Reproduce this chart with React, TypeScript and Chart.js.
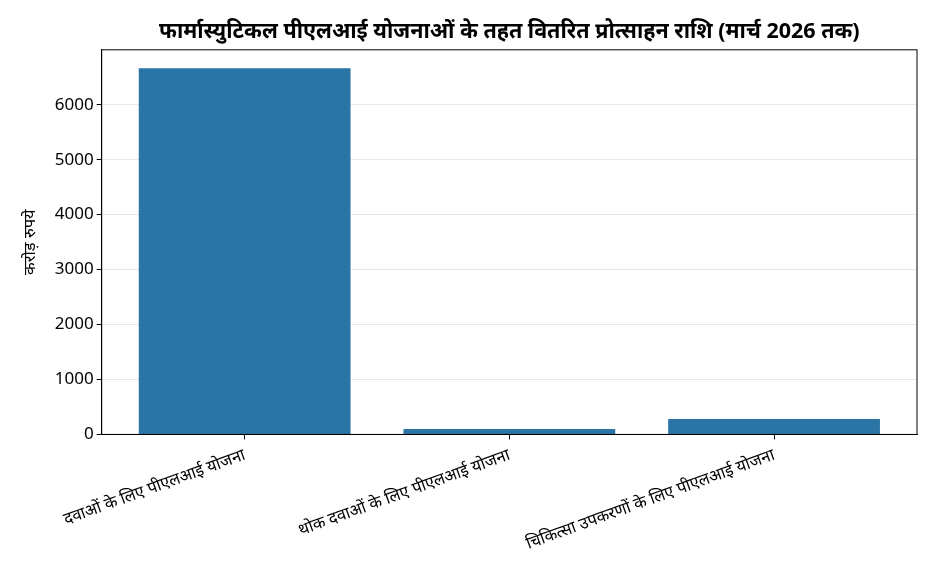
import { Chart, registerables } from 'chart.js';
import type { Plugin } from 'chart.js';
import { useEffect, useRef } from 'react';

Chart.register(...registerables);

const SCHEMES: string[] = [
    'दवाओं के लिए पीएलआई योजना',
    'थोक दवाओं के लिए पीएलआई योजना',
    'चिकित्सा उपकरणों के लिए पीएलआई योजना',
];

// crore rupees
const DISBURSED: number[] = [6664, 97, 280];

const Y_TICKS: number[] = [0, 1000, 2000, 3000, 4000, 5000, 6000];

const TITLE = 'फार्मास्युटिकल पीएलआई योजनाओं के तहत वितरित प्रोत्साहन राशि (मार्च 2026 तक)';
const Y_LABEL = 'करोड़ रुपये';

const FONT = "'Noto Sans', 'DejaVu Sans', sans-serif";

// full box round the plot, like matplotlib spines
const frame: Plugin<'bar'> = {
    id: 'frame',
    afterDraw(chart) {
        const { ctx, chartArea: a } = chart;
        ctx.save();
        ctx.strokeStyle = '#000';
        ctx.lineWidth = 1;
        ctx.strokeRect(a.left, a.top, a.right - a.left, a.bottom - a.top);
        ctx.restore();
    },
};

export default function App() {
    const canvasRef = useRef<HTMLCanvasElement>(null);
    const chartRef = useRef<Chart<'bar'> | null>(null);

    useEffect(() => {
        document.body.style.margin = '0';
        if (!canvasRef.current) return;
        chartRef.current?.destroy();

        chartRef.current = new Chart(canvasRef.current, {
            type: 'bar',
            data: {
                datasets: [
                    {
                        label: Y_LABEL,
                        data: DISBURSED.map((v, i) => ({ x: i, y: v })),
                        backgroundColor: '#2a75a6',
                        barPercentage: 0.8,
                        categoryPercentage: 1,
                    },
                ],
            },
            options: {
                responsive: false,
                animation: false,
                layout: { padding: { left: 20, right: 19, top: 0, bottom: 12 } },
                plugins: {
                    legend: { display: false },
                    tooltip: { enabled: false },
                    title: {
                        display: true,
                        text: TITLE,
                        fullSize: false,
                        color: '#000',
                        font: { family: FONT, size: 21.5, weight: 'bold' },
                        padding: { top: 19, bottom: 5 },
                    },
                },
                scales: {
                    x: {
                        type: 'linear',
                        min: -0.54,
                        max: 2.54,
                        offset: false,
                        afterBuildTicks: (axis) => {
                            axis.ticks = SCHEMES.map((_, i) => ({ value: i }));
                        },
                        grid: {
                            display: true,
                            offset: false,
                            drawOnChartArea: false,
                            color: '#000',
                            tickLength: 5,
                        },
                        border: { color: '#000' },
                        ticks: {
                            color: '#000',
                            minRotation: 20,
                            maxRotation: 20,
                            autoSkip: false,
                            padding: 6,
                            font: { family: FONT, size: 16.5 },
                            callback: (v) => SCHEMES[Number(v)] ?? '',
                        },
                    },
                    y: {
                        min: 0,
                        max: 7000,
                        z: 1,
                        afterBuildTicks: (axis) => {
                            axis.ticks = Y_TICKS.map((v) => ({ value: v }));
                        },
                        grid: {
                            color: 'rgba(176, 176, 176, 0.3)',
                            tickColor: '#000',
                            tickLength: 5,
                        },
                        border: { color: '#000' },
                        ticks: {
                            color: '#000',
                            padding: 3,
                            font: { family: FONT, size: 17 },
                            callback: (v) => String(v),
                        },
                        title: {
                            display: true,
                            text: Y_LABEL,
                            color: '#000',
                            padding: { top: 0, bottom: 12 },
                            font: { family: FONT, size: 16.5 },
                        },
                    },
                },
            },
            plugins: [frame],
        });

        return () => {
            chartRef.current?.destroy();
            chartRef.current = null;
        };
    }, []);

    return (
        <div style={{ width: '936px', height: '572px', background: '#fff' }}>
            <canvas ref={canvasRef} width={936} height={572} />
        </div>
    );
}
